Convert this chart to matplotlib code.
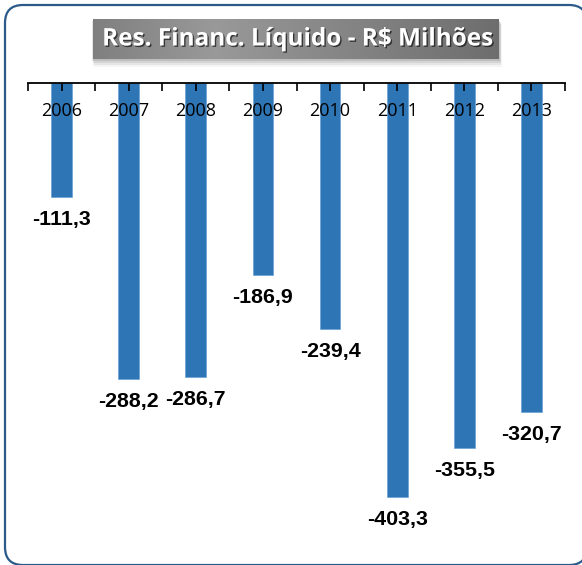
import numpy as np
import matplotlib
matplotlib.use("Agg")
import matplotlib.pyplot as plt
from matplotlib.patches import FancyBboxPatch, Rectangle
import matplotlib.patheffects as pe

years = ["2006", "2007", "2008", "2009", "2010", "2011", "2012", "2013"]
values = [-111.3, -288.2, -286.7, -186.9, -239.4, -403.3, -355.5, -320.7]
value_labels = ["-111,3", "-288,2", "-286,7", "-186,9", "-239,4", "-403,3", "-355,5", "-320,7"]
title = "Res. Financ. Líquido - R$ Milhões"

W, H = 582, 565
fig = plt.figure(figsize=(W / 100, H / 100), dpi=100)
fig.patch.set_facecolor("white")

# background overlay axes in pixel coordinates
bg = fig.add_axes([0, 0, 1, 1], zorder=0)
bg.set_xlim(0, W)
bg.set_ylim(H, 0)
bg.axis("off")

# rounded outer border (partly cropped on right/bottom)
border = FancyBboxPatch((5, 5), 582, 560, boxstyle="round,pad=0,rounding_size=18",
                        linewidth=1.6, edgecolor="#2a5a88", facecolor="white")
bg.add_patch(border)

# title box shadow
for i, a in enumerate([0.10, 0.08, 0.06, 0.04]):
    bg.add_patch(Rectangle((93 - 1 + i * 0.5, 19 + 2 + i), 406 + 2, 40 + i,
                           facecolor="black", alpha=a, edgecolor="none", linewidth=0))
# title box gradient
xs = np.linspace(0, 1, 256)
vals = np.interp(xs, [0, 0.3, 1.0], [0.50, 0.60, 0.43])
img = np.dstack([vals, vals, vals]).reshape(1, 256, 3)
bg.imshow(img, extent=(93, 499, 59, 19), aspect="auto", interpolation="bilinear", zorder=2)
bg.set_xlim(0, W)
bg.set_ylim(H, 0)

bg.text(297, 39.5, title, ha="center", va="center", color="white",
        fontsize=17.5, fontweight="bold", family=["Open Sans", "DejaVu Sans"], zorder=3,
        path_effects=[pe.withSimplePatchShadow(offset=(1, -1), shadow_rgbFace="black", alpha=0.6)])

# main axes
x0, x1 = 28, 565
ytop = 83
ybot = 540
scale = 1.026
ax = fig.add_axes([x0 / W, (H - ybot) / H, (x1 - x0) / W, (ybot - ytop) / H], zorder=1)
ax.patch.set_alpha(0)
n = len(years)
xpos = np.arange(n)
ax.bar(xpos, values, width=0.31, color="#2E75B6", edgecolor="#5b9bd5", linewidth=0.4)
ax.set_xlim(-0.5, n - 0.5)
ax.set_ylim(-(ybot - ytop) / scale, 0)

for s in ["left", "right", "bottom"]:
    ax.spines[s].set_visible(False)
ax.spines["top"].set_linewidth(1.3)
ax.spines["top"].set_color("black")
ax.set_yticks([])
ax.set_xticks(np.arange(-0.5, n, 1.0))
ax.set_xticks(xpos, minor=True)
ax.tick_params(axis="x", which="both", top=True, bottom=False, direction="in",
               length=6, width=1.2, labeltop=False, labelbottom=False)

for i, y in enumerate(years):
    ax.annotate(y, xy=(i, 1.0), xycoords=("data", "axes fraction"),
                xytext=(0, -27.5 * 0.72), textcoords="offset points",
                ha="center", va="center", fontsize=13, family=["Open Sans", "DejaVu Sans"],
                color="black")

for i, (v, lab) in enumerate(zip(values, value_labels)):
    ax.annotate(lab, xy=(i, v), xytext=(0, -22.5 * 0.72), textcoords="offset points",
                ha="center", va="center", fontsize=15.4, fontweight="bold",
                family=["Liberation Sans", "DejaVu Sans"], color="black")

fig.savefig("out.png", dpi=100)
